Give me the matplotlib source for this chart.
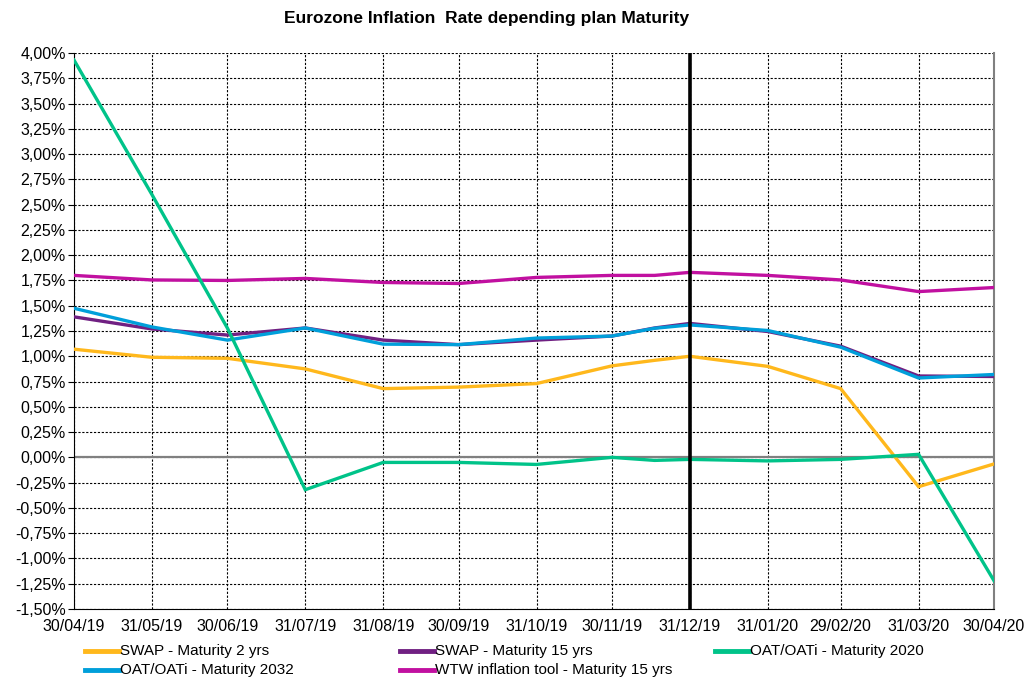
import matplotlib
matplotlib.use("Agg")
import matplotlib.pyplot as plt
from matplotlib.lines import Line2D
from matplotlib.ticker import FuncFormatter, MultipleLocator
from datetime import datetime

# ---- data ----
dates = ["30/04/19", "31/05/19", "30/06/19", "31/07/19", "31/08/19", "30/09/19",
         "31/10/19", "30/11/19", "17/12/19", "31/12/19", "31/01/20", "29/02/20",
         "31/03/20", "30/04/20"]
tick_labels = ["30/04/19", "31/05/19", "30/06/19", "31/07/19", "31/08/19", "30/09/19",
               "31/10/19", "30/11/19", "31/12/19", "31/01/20", "29/02/20", "31/03/20",
               "30/04/20"]
swap_2 = [1.07, 0.99, 0.98, 0.875, 0.68, 0.695, 0.73, 0.905, 0.96, 1.00, 0.90, 0.68, -0.29, -0.065]
swap_15 = [1.39, 1.27, 1.21, 1.28, 1.16, 1.115, 1.16, 1.20, 1.28, 1.325, 1.245, 1.10, 0.805, 0.80]
oat_2020 = [3.93, 2.60, 1.28, -0.32, -0.05, -0.05, -0.07, 0.00, -0.03, -0.02, -0.035, -0.02, 0.03, -1.22]
oat_2032 = [1.475, 1.29, 1.16, 1.28, 1.12, 1.115, 1.18, 1.20, 1.277, 1.31, 1.255, 1.09, 0.785, 0.82]
wtw_15 = [1.80, 1.755, 1.75, 1.77, 1.73, 1.72, 1.78, 1.80, 1.80, 1.83, 1.80, 1.755, 1.64, 1.68]
labels = ["SWAP - Maturity 2 yrs", "SWAP - Maturity 15 yrs", "OAT/OATi - Maturity 2020",
          "OAT/OATi - Maturity 2032", "WTW inflation tool - Maturity 15 yrs"]
marker_date = "31/12/19"
title = "Eurozone Inflation  Rate depending plan Maturity"

colors = ["#FFB81C", "#702082", "#00C389", "#009FDA", "#C110A0"]
zorders = [3, 3, 5, 4, 3]

plt.rcParams['font.family'] = ['Liberation Sans', 'DejaVu Sans']

W, H = 1025, 678
fig = plt.figure(figsize=(W / 100, H / 100), dpi=100)
ax = fig.add_axes([74 / W, 1 - 609 / H, (994 - 74) / W, (609 - 53) / H])

x = [datetime.strptime(d, "%d/%m/%y") for d in dates]
xt = [datetime.strptime(d, "%d/%m/%y") for d in tick_labels]

series = [swap_2, swap_15, oat_2020, oat_2032, wtw_15]
for s, c, z in zip(series, colors, zorders):
    ax.plot(x, s, color=c, lw=2.4, zorder=z, solid_joinstyle='miter')

ax.set_xlim(xt[0], xt[-1])
ax.set_ylim(-1.5, 4.0)
ax.yaxis.set_major_locator(MultipleLocator(0.25))
ax.yaxis.set_major_formatter(FuncFormatter(lambda v, p: f"{v:.2f}%".replace('.', ',')))
ax.set_xticks(xt)
ax.set_xticklabels(tick_labels, fontsize=11.5)
for lab in ax.get_yticklabels():
    lab.set_fontsize(11.5)

ax.grid(True, which='major', color='black', linestyle=(0, (2, 1.5)), lw=0.8, zorder=1)
ax.axhline(0, color='#808080', lw=1.6, zorder=2)
ax.axvline(datetime.strptime(marker_date, "%d/%m/%y"), color='black', lw=2.6, zorder=6)

ax.spines['top'].set_visible(False)
ax.spines['right'].set_color('#808080')
ax.spines['right'].set_linewidth(1.5)
ax.spines['left'].set_color('black')
ax.spines['bottom'].set_color('black')
ax.tick_params(axis='y', length=4, width=0.8, pad=2, direction='out')
ax.tick_params(axis='x', length=0, pad=7)

fig.text(487 / W, 1 - 18 / H, title, ha='center', va='center', fontsize=12.5,
         fontweight='bold')

# legend placed manually
pos = [(85, 651), (400, 651), (715, 651), (85, 670), (400, 670)]
for (hx, hy), c, lab in zip(pos, colors, labels):
    fy = 1 - hy / H
    fig.add_artist(Line2D([hx / W, (hx + 34) / W], [fy, fy], color=c, lw=3.5,
                          transform=fig.transFigure))
    fig.text((hx + 35) / W, fy, lab, ha='left', va='center', fontsize=11)

fig.savefig("out.png", dpi=100)
